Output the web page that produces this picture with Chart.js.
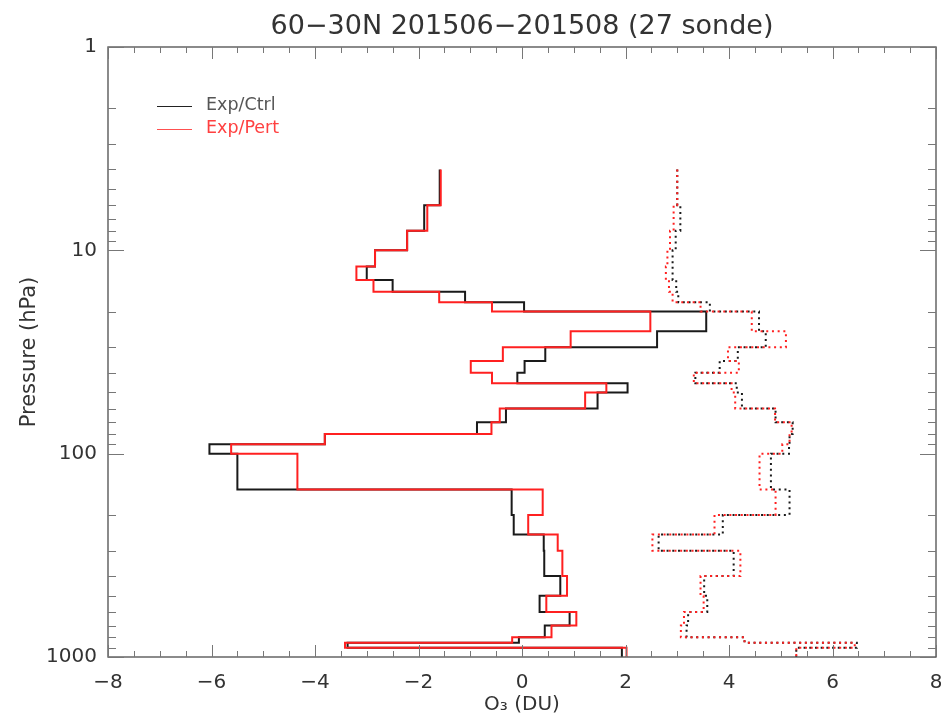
<!DOCTYPE html>
<html>
<head>
<meta charset="utf-8">
<title>60-30N 201506-201508 (27 sonde)</title>
<script src="https://cdn.jsdelivr.net/npm/chart.js@4.4.1/dist/chart.umd.min.js"></script>
<style>
  html, body { margin: 0; padding: 0; background: #fff; }
  canvas { display: block; }
</style>
</head>
<body>
<canvas id="o3-profile" width="941" height="718"></canvas>
<script>
// layer edges (hPa), 31 layers between them
const levels = [4, 6, 8, 10, 12, 14, 16, 18, 20, 25, 30, 35, 40, 45, 50, 60, 70, 80, 90,
                100, 150, 200, 250, 300, 400, 500, 600, 700, 800, 850, 900, 1000];

// mean O3 difference per layer (DU)
const ctrlMean = [-1.59, -1.89, -2.22, -2.84, -3.00, -2.50, -1.10, 0.04, 3.56, 2.61,
                  0.45, 0.05, -0.09, 2.04, 1.46, -0.31, -0.87, -3.81, -6.04, -5.50,
                  -0.20, -0.16, 0.42, 0.43, 0.74, 0.34, 0.92, 0.44, -0.06, -3.37, 1.93];
const pertMean = [-1.57, -1.83, -2.22, -2.84, -3.20, -2.87, -1.60, -0.58, 2.48, 0.94,
                  -0.37, -0.99, -0.58, 1.63, 1.22, -0.43, -0.59, -3.81, -5.62, -4.34,
                  0.40, 0.12, 0.69, 0.78, 0.87, 0.47, 1.05, 0.57, -0.19, -3.42, 2.02];

// standard deviation per layer (DU)
const ctrlStd = [3.00, 3.06, 2.97, 2.91, 2.91, 2.98, 3.02, 3.63, 4.58, 4.71,
                 4.17, 3.82, 3.35, 4.15, 4.25, 4.90, 5.23, 5.17, 5.16, 4.81,
                 5.17, 3.88, 2.64, 4.09, 3.52, 3.58, 3.21, 3.18, 4.30, 6.47, 5.30];
const pertStd = [3.00, 2.93, 2.86, 2.81, 2.78, 2.84, 2.91, 3.45, 4.44, 5.10,
                 3.98, 4.19, 3.32, 4.05, 4.12, 4.89, 5.21, 5.17, 5.03, 4.59,
                 4.90, 3.72, 2.52, 4.22, 3.45, 3.51, 3.13, 3.07, 4.30, 6.43, 5.30];

const xTickLabels = [-8, -6, -4, -2, 0, 2, 4, 6, 8];
const yTickLabels = [1, 10, 100, 1000];
const seriesNames = ['Exp/Ctrl', 'Exp/Pert'];
const titleText = '60\u221230N 201506\u2212201508 (27 sonde)';

const FONT = "'DejaVu Sans', sans-serif";
const BLACK = '#1a1a1a';
const RED = '#ff2020';

Chart.defaults.font.family = FONT;
Chart.defaults.color = '#333';

// turn per-layer values into a staircase: each layer is a vertical segment
function steps(vals) {
    const pts = [];
    vals.forEach((v, i) => {
        pts.push({ x: v, y: levels[i] });
        pts.push({ x: v, y: levels[i + 1] });
    });
    return pts;
}

// log minor ticks 1..9 in each decade
const yMinorTicks = [];
for (let d = 1; d < 1000; d *= 10) {
    for (let k = 1; k < 10; k++) yMinorTicks.push(k * d);
}
yMinorTicks.push(1000);

function ds(label, vals, color, dotted, order) {
    return {
        label,
        data: steps(vals),
        showLine: true,
        borderColor: color,
        borderWidth: 2,
        borderDash: dotted ? [2, 3.7] : [],
        pointRadius: 0,
        tension: 0,
        fill: false,
        order
    };
}

// frame with inward ticks on all four sides, title, axis names, legend
const decorations = {
    id: 'decorations',
    afterDraw(chart) {
        const { ctx, chartArea: a, scales: { x, y } } = chart;
        ctx.save();

        ctx.strokeStyle = '#5a5a5a';
        ctx.lineWidth = 1.4;
        ctx.strokeRect(a.left, a.top, a.right - a.left, a.bottom - a.top);

        ctx.lineWidth = 1;
        ctx.strokeStyle = '#777';
        const seg = (x1, y1, x2, y2) => {
            ctx.beginPath(); ctx.moveTo(x1, y1); ctx.lineTo(x2, y2); ctx.stroke();
        };
        for (let v = -8; v <= 8; v += 0.5) {
            const px = Math.round(x.getPixelForValue(v)) + 0.5;
            const len = v % 2 === 0 ? 12 : 6;
            seg(px, a.bottom, px, a.bottom - len);
            seg(px, a.top, px, a.top + len);
        }
        yMinorTicks.forEach(p => {
            const py = Math.round(y.getPixelForValue(p)) + 0.5;
            const len = yTickLabels.includes(p) ? 16 : 8;
            seg(a.left, py, a.left + len, py);
            seg(a.right, py, a.right - len, py);
        });

        // title
        ctx.fillStyle = '#333';
        ctx.textAlign = 'center';
        ctx.textBaseline = 'middle';
        ctx.font = `27px ${FONT}`;
        ctx.fillText(titleText, (a.left + a.right) / 2, 27);

        // axis names
        ctx.font = `20px ${FONT}`;
        ctx.fillText('O\u2083 (DU)', (a.left + a.right) / 2, 705);
        ctx.save();
        ctx.translate(30, (a.top + a.bottom) / 2);
        ctx.rotate(-Math.PI / 2);
        ctx.font = `21px ${FONT}`;
        ctx.fillText('Pressure (hPa)', 0, 0);
        ctx.restore();

        // legend
        ctx.textAlign = 'left';
        ctx.font = `17.5px ${FONT}`;
        [[seriesNames[0], '#222', '#555', 106], [seriesNames[1], '#ff5050', '#ff4040', 129]]
            .forEach(([name, lc, tc, ly]) => {
                ctx.strokeStyle = lc;
                ctx.lineWidth = 1;
                seg(157, ly + 0.5, 192, ly + 0.5);
                ctx.fillStyle = tc;
                ctx.fillText(name, 206, ly - 1);
            });

        ctx.restore();
    }
};

new Chart(document.getElementById('o3-profile'), {
    type: 'scatter',
    data: {
        datasets: [
            ds('Exp/Pert std', pertStd, RED, true, 1),
            ds('Exp/Ctrl std', ctrlStd, BLACK, true, 2),
            ds('Exp/Pert', pertMean, RED, false, 3),
            ds('Exp/Ctrl', ctrlMean, BLACK, false, 4)
        ]
    },
    options: {
        responsive: false,
        animation: false,
        layout: { padding: { top: 47, right: 5, left: 0, bottom: 0 } },
        plugins: {
            legend: { display: false },
            tooltip: { enabled: false }
        },
        scales: {
            x: {
                type: 'linear',
                min: -8,
                max: 8,
                afterBuildTicks: s => { s.ticks = xTickLabels.map(v => ({ value: v })); },
                afterFit: s => { s.height = 61; s.paddingLeft = 0; s.paddingRight = 0; },
                grid: { display: false, drawTicks: false },
                border: { display: false },
                ticks: {
                    padding: 14,
                    maxRotation: 0,
                    font: { size: 20 },
                    color: '#333',
                    callback: v => String(v).replace('-', '\u2212')
                }
            },
            y: {
                type: 'logarithmic',
                reverse: true,
                min: 1,
                max: 1000,
                afterBuildTicks: s => { s.ticks = yTickLabels.map(v => ({ value: v })); },
                afterFit: s => { s.width = 108; s.paddingTop = 0; s.paddingBottom = 0; },
                grid: { display: false, drawTicks: false },
                border: { display: false },
                ticks: {
                    padding: 11,
                    autoSkip: false,
                    font: { size: 20 },
                    color: '#333',
                    callback: v => String(v)
                }
            }
        }
    },
    plugins: [decorations]
});
</script>
</body>
</html>
